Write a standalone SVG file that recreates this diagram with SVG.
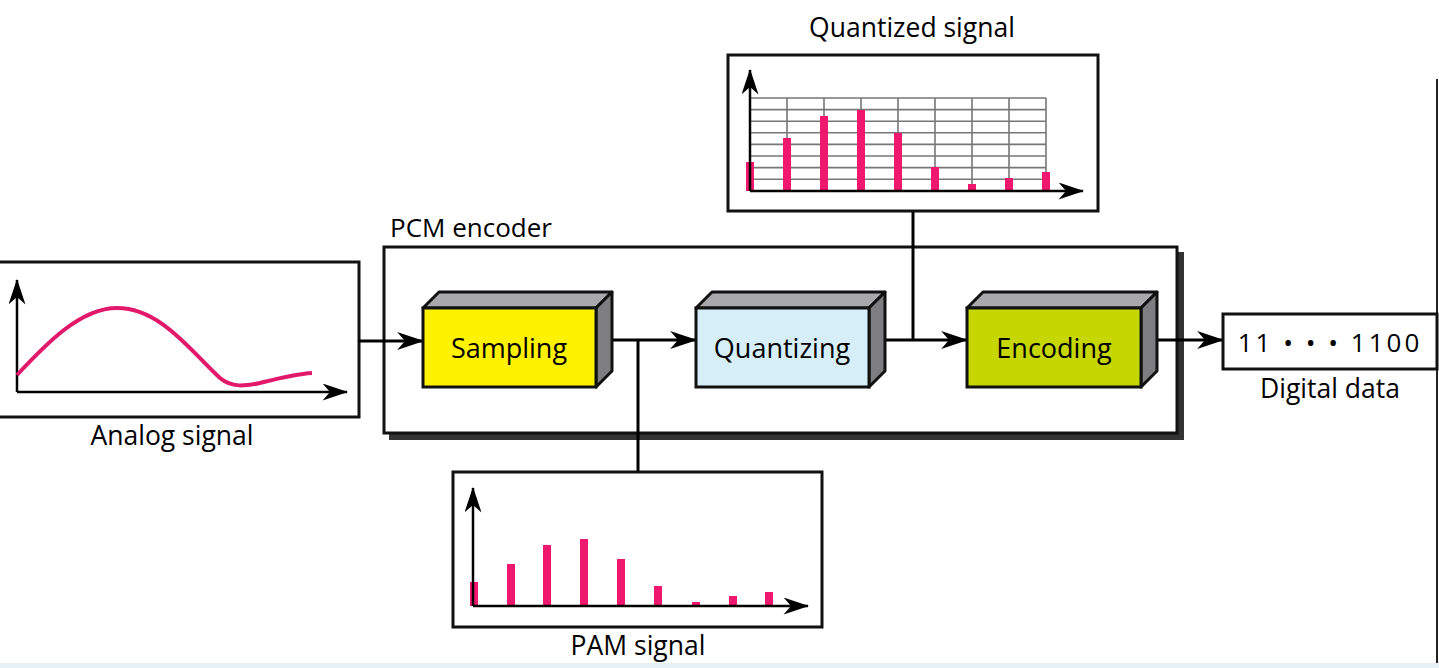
<svg xmlns="http://www.w3.org/2000/svg" width="1439" height="668" viewBox="0 0 1439 668">
<style>
text{font-family:"Open Sans","Noto Sans","Liberation Sans",sans-serif;fill:#000}
.lbl{font-size:26.5px;text-anchor:middle}
.blk{font-size:27px;text-anchor:middle}
.frame{fill:#fff;stroke:#111;stroke-width:3}
.ax{stroke:#000;stroke-width:2.5;fill:none}
.wire{stroke:#000;stroke-width:3;fill:none}
.bar{fill:#F0186E}
.grid{stroke:#777;stroke-width:1.6;fill:none}
.top{fill:#A9A9AD;stroke:#111;stroke-width:3;stroke-linejoin:round}
.side{fill:#7E7E80;stroke:#111;stroke-width:3;stroke-linejoin:round}
</style>
<defs>
<marker id="ah" viewBox="0 0 24 16" refX="23" refY="8" markerWidth="28" markerHeight="18" markerUnits="userSpaceOnUse" orient="auto">
<path d="M0,0 L24,8 L0,16 L7,8 z" fill="#000"/>
</marker>
<marker id="axh" viewBox="0 0 24 16" refX="23" refY="8" markerWidth="26" markerHeight="17" markerUnits="userSpaceOnUse" orient="auto">
<path d="M0,0 L24,8 L0,16 L7,8 z" fill="#000"/>
</marker>
</defs>
<rect width="1439" height="668" fill="#fff"/>
<rect x="0" y="663" width="1439" height="5" fill="#E6F1F7"/>
<line x1="1437" y1="79" x2="1437" y2="663" stroke="#222" stroke-width="2"/>

<g id="analog">
<rect class="frame" x="-2" y="262" width="361" height="155"/>
<line class="ax" x1="17" y1="392" x2="17" y2="280" marker-end="url(#axh)"/>
<line class="ax" x1="17" y1="392" x2="347" y2="392" marker-end="url(#axh)"/>
<path d="M17,375 C45,345 80,308 117,308 C160,308 190,350 220,378 C232,388 245,386 260,383 C280,378 295,374 312,373" fill="none" stroke="#E2186A" stroke-width="4"/>
<text class="lbl" x="172" y="445">Analog signal</text>
</g>

<g id="pcm">
<rect x="389" y="252" width="795" height="188" fill="#333"/>
<rect class="frame" x="384" y="247" width="793" height="186"/>
<text x="390" y="237" style="font-size:26px">PCM encoder</text>
</g>

<g id="connectors">
<line class="wire" x1="359" y1="341" x2="423" y2="341" marker-end="url(#ah)"/>
<line class="wire" x1="604" y1="340" x2="696" y2="340" marker-end="url(#ah)"/>
<line class="wire" x1="638" y1="340" x2="638" y2="472"/>
<line class="wire" x1="876" y1="340" x2="967" y2="340" marker-end="url(#ah)"/>
<line class="wire" x1="913" y1="340" x2="913" y2="211"/>
<line class="wire" x1="1149" y1="340" x2="1223" y2="340" marker-end="url(#ah)"/>
</g>

<g id="sampling">
<path class="top" d="M423,308 L439,292 L612,292 L596,308 Z"/>
<path class="side" d="M596,308 L612,292 L612,371 L596,387 Z"/>
<rect x="423" y="308" width="173" height="79" fill="#FFF200" stroke="#111" stroke-width="3"/>
<text class="blk" x="509" y="358">Sampling</text>
</g>

<g id="quantizing">
<path class="top" d="M696,308 L712,292 L885,292 L869,308 Z"/>
<path class="side" d="M869,308 L885,292 L885,371 L869,387 Z"/>
<rect x="696" y="308" width="173" height="79" fill="#D5EEF8" stroke="#111" stroke-width="3"/>
<text class="blk" x="782" y="358">Quantizing</text>
</g>

<g id="encoding">
<path class="top" d="M967,308 L983,292 L1157,292 L1141,308 Z"/>
<path class="side" d="M1141,308 L1157,292 L1157,371 L1141,387 Z"/>
<rect x="967" y="308" width="174" height="79" fill="#C5D600" stroke="#111" stroke-width="3"/>
<text class="blk" x="1054" y="358">Encoding</text>
</g>

<g id="quantized">
<text class="lbl" x="912" y="37">Quantized signal</text>
<rect class="frame" x="728" y="55" width="370" height="156"/>
<g class="grid">
<path d="M750,98 H1046 M750,109.6 H1046 M750,121.2 H1046 M750,132.8 H1046 M750,144.4 H1046 M750,156 H1046 M750,167.6 H1046 M750,179.2 H1046"/>
<path d="M787,98 V191 M824,98 V191 M861,98 V191 M898,98 V191 M935,98 V191 M972,98 V191 M1009,98 V191 M1046,98 V191"/>
</g>
<rect class="bar" x="746" y="162" width="8" height="29"/>
<rect class="bar" x="783" y="138" width="8" height="53"/>
<rect class="bar" x="820" y="116" width="8" height="75"/>
<rect class="bar" x="857" y="110" width="8" height="81"/>
<rect class="bar" x="894" y="133" width="8" height="58"/>
<rect class="bar" x="931" y="167" width="8" height="24"/>
<rect class="bar" x="968" y="184" width="8" height="7"/>
<rect class="bar" x="1005" y="178" width="8" height="13"/>
<rect class="bar" x="1042" y="172" width="8" height="19"/>
<line class="ax" x1="750" y1="191" x2="750" y2="70" marker-end="url(#axh)"/>
<line class="ax" x1="750" y1="191" x2="1083" y2="191" marker-end="url(#axh)"/>
</g>

<g id="pam">
<rect class="frame" x="453" y="472" width="369" height="155"/>
<rect class="bar" x="470" y="582" width="8" height="24"/>
<rect class="bar" x="507" y="564" width="8" height="42"/>
<rect class="bar" x="543" y="545" width="8" height="61"/>
<rect class="bar" x="580" y="539" width="8" height="67"/>
<rect class="bar" x="617" y="559" width="8" height="47"/>
<rect class="bar" x="654" y="586" width="8" height="20"/>
<rect class="bar" x="692" y="602" width="8" height="4"/>
<rect class="bar" x="729" y="596" width="8" height="10"/>
<rect class="bar" x="765" y="592" width="8" height="14"/>
<line class="ax" x1="473" y1="606" x2="473" y2="488" marker-end="url(#axh)"/>
<line class="ax" x1="473" y1="606" x2="808" y2="606" marker-end="url(#axh)"/>
<text class="lbl" x="638" y="655">PAM signal</text>
</g>

<g id="digital">
<rect class="frame" x="1223" y="314" width="214" height="55"/>
<text x="1330" y="352" style="font-size:26px;text-anchor:middle;letter-spacing:3px">11 • • • 1100</text>
<text class="lbl" x="1330" y="398">Digital data</text>
</g>
</svg>
